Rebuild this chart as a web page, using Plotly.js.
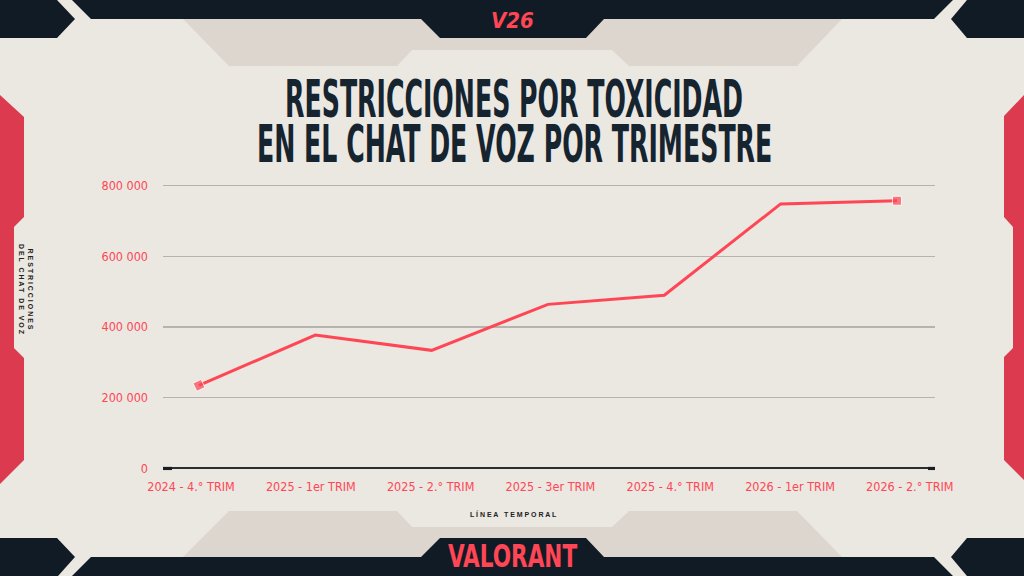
<!DOCTYPE html>
<html>
<head>
<meta charset="utf-8">
<script src="https://cdn.plot.ly/plotly-3.0.1.min.js"></script>
<style>
html,body{margin:0;padding:0;background:#ebe7e1;}
#chart{width:1024px;height:576px;}
/* condensed, tall display lettering for the title lines */
#chart .gtitle,
#chart g.annotation[data-index="0"] text{
  transform-box: fill-box; transform-origin: center; transform: scale(0.61, 1.13);
}
#chart g.annotation[data-index="1"] text{
  transform-box: fill-box; transform-origin: center; transform: scale(1, 1.3);
}
</style>
</head>
<body>
<div id="chart"></div>
<script>
// ---- data ----
const quarters = ["2024 - 4.° TRIM", "2025 - 1er TRIM", "2025 - 2.° TRIM", "2025 - 3er TRIM", "2025 - 4.° TRIM", "2026 - 1er TRIM", "2026 - 2.° TRIM"];
const restrictions = [235000, 377000, 334000, 464000, 490000, 748000, 757000];
const yTickVals = [0, 200000, 400000, 600000, 800000];
const yTickText = ["0", "200 000", "400 000", "600 000", "800 000"];
const titleLine1 = "RESTRICCIONES POR TOXICIDAD";
const titleLine2 = "EN EL CHAT DE VOZ POR TRIMESTRE";
const yTitle = "R E S T R I C C I O N E S<br>D E L   C H A T   D E   V O Z";
const xTitle = "L Í N E A   T E M P O R A L";

// ---- layout geometry ----
const W = 1024, H = 576, ML = 163, MR = 89, MT = 182, MB = 104;
const PW = W - ML - MR, PH = H - MT - MB;
const RED = "#ff4655", NAVY = "#111b25", BEIGE = "#ebe7e1", TRAP = "#ddd6cf", SIDE = "#dc3a4f";
const TITLE_FONT = "DejaVu Sans Condensed, Liberation Sans Narrow, DejaVu Sans, sans-serif";
const TICK_FONT = "DejaVu Sans Condensed, Liberation Sans Narrow, DejaVu Sans, sans-serif";

function path(pts){
  return pts.map((p,i)=>(i?"L":"M")+((p[0]-ML)/PW).toFixed(5)+","+((H-MB-p[1])/PH).toFixed(5)).join(" ")+" Z";
}
function deco(pts, color){
  return {type:"path", xref:"paper", yref:"paper", path:path(pts), fillcolor:color, line:{width:0}, layer:"below"};
}
const shapes = [
  deco([[183,19],[229,66],[397,66],[412,50],[612,50],[629,66],[797,66],[842,19]], TRAP),
  deco([[229,511],[397,511],[412,527],[612,527],[629,511],[797,511],[842,557],[183,557]], TRAP),
  deco([[72,0],[953,0],[934,19],[604,19],[586,38],[440,38],[421,19],[91,19]], NAVY),
  deco([[0,0],[57,0],[75,19],[57,38],[0,38]], NAVY),
  deco([[1024,0],[967,0],[951,19],[967,38],[1024,38]], NAVY),
  deco([[91,557],[421,557],[440,538],[586,538],[604,557],[934,557],[953,576],[72,576]], NAVY),
  deco([[0,538],[57,538],[75,557],[58,576],[0,576]], NAVY),
  deco([[1024,538],[967,538],[951,557],[967,576],[1024,576]], NAVY),
  deco([[0,95],[24,117],[24,217],[14,227],[14,348],[24,358],[24,460],[0,484]], SIDE),
  deco([[1024,95],[1004,116],[1004,217],[1013,227],[1013,348],[1004,357],[1004,460],[1024,480]], SIDE),
  {type:"rect", xref:"paper", yref:"y", x0:0, x1:9/PW, y0:-4500, y1:4500, fillcolor:"#1a1d22", line:{width:0}},
  {type:"rect", xref:"paper", yref:"y", x0:1-7/PW, x1:1, y0:-4500, y1:4500, fillcolor:"#1a1d22", line:{width:0}}
];

const n = quarters.length;
const traces = [
  {
    x: quarters.map((q,i)=>i), y: quarters.map(()=>null), xaxis:"x", yaxis:"y",
    type:"scatter", mode:"lines", hoverinfo:"skip", showlegend:false
  },
  {
    x: quarters, y: restrictions, xaxis:"x2", yaxis:"y",
    type:"scatter", mode:"lines+markers",
    line:{color:RED, width:3},
    marker:{color:RED, symbol:"square",
      size: restrictions.map((v,i)=> (i===0 || i===n-1) ? 9 : 0),
      angle: restrictions.map((v,i)=> i===0 ? -25 : 0)},
    showlegend:false, hoverinfo:"x+y"
  }
];

const layout = {
  width:W, height:H,
  margin:{l:ML, r:MR, t:MT, b:MB, pad:0},
  paper_bgcolor:BEIGE, plot_bgcolor:"rgba(0,0,0,0)",
  showlegend:false,
  title:{text:titleLine1, x:0.502, xref:"container", y:1-99/H, yref:"container", xanchor:"center", yanchor:"middle",
    font:{family:TITLE_FONT, size:46, color:"#15242f", weight:700}},
  xaxis:{type:"linear", range:[-0.234, 6.21], tickvals:quarters.map((q,i)=>i), ticktext:quarters,
    showgrid:false, zeroline:false, showline:false, ticks:"", ticklabelstandoff:5,
    tickfont:{family:TICK_FONT, size:12.5, color:RED}, fixedrange:true},
  xaxis2:{type:"category", overlaying:"x", range:[-0.309, 6.327], visible:false, fixedrange:true},
  yaxis:{range:[-10000, 810000], tickvals:yTickVals, ticktext:yTickText,
    showgrid:true, gridcolor:"#b6b3ae", gridwidth:1.5,
    zeroline:true, zerolinecolor:"#2b2e33", zerolinewidth:2,
    showline:false, ticks:"", ticklabelstandoff:14,
    tickfont:{family:TICK_FONT, size:12.5, color:RED}, fixedrange:true},
  shapes:shapes,
  annotations:[
    {text:titleLine2, xref:"paper", yref:"paper", x:(514-ML)/PW, y:(H-MB-144)/PH, showarrow:false,
      xanchor:"center", yanchor:"middle",
      font:{family:TITLE_FONT, size:46, color:"#15242f", weight:700}},
    {text:"VALORANT", xref:"paper", yref:"paper", x:(512-ML)/PW, y:(H-MB-557)/PH, showarrow:false,
      xanchor:"center", yanchor:"middle",
      font:{family:TITLE_FONT, size:24, color:RED, weight:700}},
    {text:yTitle, xref:"paper", yref:"paper", x:(26-ML)/PW, y:(H-MB-289)/PH, showarrow:false, textangle:90,
      xanchor:"center", yanchor:"middle", align:"center",
      font:{family:"Liberation Sans, DejaVu Sans, sans-serif", size:7, color:"#222", weight:700}},
    {text:xTitle, xref:"paper", yref:"paper", x:(513-ML)/PW, y:(H-MB-514)/PH, showarrow:false,
      xanchor:"center", yanchor:"middle",
      font:{family:"Liberation Sans, DejaVu Sans, sans-serif", size:7, color:"#222", weight:700}},
    {text:"<i>V26</i>", xref:"paper", yref:"paper", x:(512-ML)/PW, y:(H-MB-20)/PH, showarrow:false,
      xanchor:"center", yanchor:"middle",
      font:{family:TITLE_FONT, size:22, color:RED, weight:700}}
  ]
};

Plotly.newPlot("chart", traces, layout, {displayModeBar:false, staticPlot:true});
</script>
</body>
</html>
